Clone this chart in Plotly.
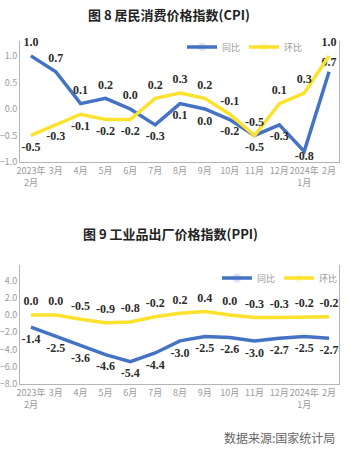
import plotly.graph_objects as go

months = ["2023年<br>2月", "3月", "4月", "5月", "6月", "7月", "8月", "9月", "10月", "11月", "12月", "2024年<br>1月", "2月"]
cpi_yoy = [1.0, 0.7, 0.1, 0.2, 0.0, -0.3, 0.1, 0.0, -0.2, -0.5, -0.3, -0.8, 0.7]
cpi_mom = [-0.5, -0.3, -0.1, -0.2, -0.2, 0.2, 0.3, 0.2, -0.1, -0.5, 0.1, 0.3, 1.0]
ppi_yoy = [-1.4, -2.5, -3.6, -4.6, -5.4, -4.4, -3.0, -2.5, -2.6, -3.0, -2.7, -2.5, -2.7]
ppi_mom = [0.0, 0.0, -0.5, -0.9, -0.8, -0.2, 0.2, 0.4, 0.0, -0.3, -0.3, -0.2, -0.2]

cpi_yoy_pos = ["top center"] * 5 + ["bottom center"] * 7 + ["top center"]
cpi_mom_pos = ["bottom center"] * 5 + ["top center"] * 8
ppi_yoy_pos = ["bottom center"] * 13
ppi_mom_pos = ["top center"] * 13
# label offsets (invisible marker sizes)
cpi_yoy_gap = [9] * 11 + [0, 3]
cpi_mom_gap = [9] * 13

BLUE = "#4472C4"
YELLOW = "#FCE22C"
W, H = 357, 452
idx = list(range(len(months)))
lab_font = dict(family="Liberation Serif", size=12, color="#2b2b2b", weight="bold")

fig = go.Figure()

def add(vals, pos, color, name, xa, ya, legend, gap=9):
    fig.add_trace(go.Scatter(
        x=idx, y=vals, mode="lines+markers+text", name=name,
        text=[f"{v:.1f}" for v in vals], textposition=pos,
        textfont=lab_font, line=dict(color=color, width=3.5),
        marker=dict(size=gap, color=color, opacity=0, line=dict(width=0)),
        xaxis=xa, yaxis=ya, legend=legend, cliponaxis=False,
        hoverinfo="skip"))

add(cpi_yoy, cpi_yoy_pos, BLUE, "同比", "x", "y", "legend", cpi_yoy_gap)
add(cpi_mom, cpi_mom_pos, YELLOW, "环比", "x", "y", "legend", cpi_mom_gap)
add(ppi_yoy, ppi_yoy_pos, BLUE, "同比", "x2", "y2", "legend2")
add(ppi_mom, ppi_mom_pos, YELLOW, "环比", "x2", "y2", "legend2")

xdom = [20 / W, 339 / W]
tick_font = dict(family="Noto Sans CJK SC", size=9, color="#9a9a9a")
axis_common = dict(showgrid=False, zeroline=False, showline=True, linecolor="#b5b5b5",
                   linewidth=1, ticks="", tickfont=tick_font, automargin=False)

fig.update_layout(
    width=W, height=H, margin=dict(l=0, r=0, t=0, b=0, autoexpand=False),
    plot_bgcolor="white", paper_bgcolor="white", showlegend=True,
    xaxis=dict(domain=xdom, range=[-0.44, 12.4], tickvals=idx, ticktext=months, tickangle=0,
               anchor="y", **axis_common),
    yaxis=dict(domain=[1 - 162 / H, 1 - 41 / H], range=[-1.0, 1.28], tickvals=[-1.0, -0.5, 0.0, 0.5, 1.0],
               tickformat=".1f", anchor="x", mirror=True, **axis_common),
    xaxis2=dict(domain=xdom, range=[-0.44, 12.4], tickvals=idx, ticktext=months, tickangle=0,
                anchor="y2", **axis_common),
    yaxis2=dict(domain=[1 - 384 / H, 1 - 265 / H], range=[-8.0, 5.8], tickvals=[-8, -6, -4, -2, 0, 2, 4],
                tickformat=".1f", anchor="x2", mirror=True, **axis_common),
    legend=dict(orientation="h", x=182 / W, y=1 - 47 / H, xanchor="left", yanchor="middle",
                entrywidth=17, entrywidthmode="pixels",
                font=dict(family="Noto Sans CJK SC", size=9, color="#9a9a9a"), bgcolor="rgba(0,0,0,0)"),
    legend2=dict(orientation="h", x=217 / W, y=1 - 278 / H, xanchor="left", yanchor="middle",
                 entrywidth=17, entrywidthmode="pixels",
                 font=dict(family="Noto Sans CJK SC", size=9, color="#9a9a9a"), bgcolor="rgba(0,0,0,0)"),
    annotations=[
        dict(text="<b>图 8 居民消费价格指数(CPI)</b>", x=169 / W, y=1 - 14 / H, xref="paper", yref="paper",
             xanchor="center", yanchor="middle",
             showarrow=False, font=dict(family="Noto Sans CJK SC", size=13, color="#222")),
        dict(text="<b>图 9 工业品出厂价格指数(PPI)</b>", x=170 / W, y=1 - 233 / H, xref="paper", yref="paper",
             xanchor="center", yanchor="middle",
             showarrow=False, font=dict(family="Noto Sans CJK SC", size=13, color="#222")),
        dict(text="数据来源:国家统计局", x=337 / W, y=1 - 437 / H, xref="paper", yref="paper",
             xanchor="right", yanchor="middle", showarrow=False,
             font=dict(family="Noto Sans CJK SC", size=12, color="#666")),
    ],
)

fig.write_html("out.html", config={"displayModeBar": False},
               post_script="document.body.style.margin='0';")
